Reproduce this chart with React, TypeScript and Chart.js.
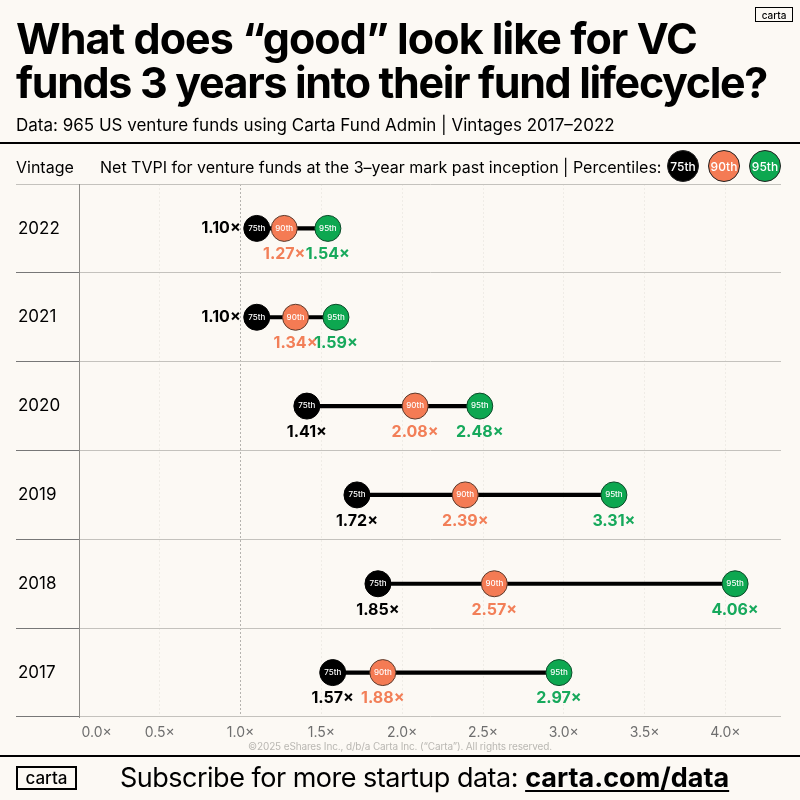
import { useEffect, useRef } from "react";
import { Chart, registerables } from "chart.js";

Chart.register(...registerables);

const vintages = ["2022", "2021", "2020", "2019", "2018", "2017"];
const p75 = [1.1, 1.1, 1.41, 1.72, 1.85, 1.57];
const p90 = [1.27, 1.34, 2.08, 2.39, 2.57, 1.88];
const p95 = [1.54, 1.59, 2.48, 3.31, 4.06, 2.97];
const leftLabelVintages = ["2022", "2021"];

const BG = "#FCF9F4";
const FONT = "Inter, sans-serif";
const ORANGE = "#F47B54";
const GREEN = "#0DA750";
const LABEL_ORANGE = "#F27F58";
const LABEL_GREEN = "#17A95C";

// value labels and the "75th" text inside the dots
const dotLabels = {
  id: "dotLabels",
  afterDatasetsDraw(chart: any) {
    const { ctx } = chart;
    chart.data.datasets.forEach((ds: any, di: number) => {
      if (!ds.labelColor) return;
      chart.getDatasetMeta(di).data.forEach((pt: any, i: number) => {
        ctx.save();
        ctx.textBaseline = "middle";
        ctx.textAlign = "center";
        ctx.fillStyle = "#FFFFFF";
        ctx.font = `500 8px ${FONT}`;
        ctx.fillText(ds.label, pt.x, pt.y);
        ctx.font = `700 16px ${FONT}`;
        ctx.fillStyle = ds.labelColor;
        const text = ds.data[i].toFixed(2) + "×";
        if (ds.label === "75th" && leftLabelVintages.includes(vintages[i])) {
          ctx.textAlign = "right";
          ctx.fillText(text, pt.x - 16, pt.y);
        } else {
          ctx.fillText(text, pt.x, pt.y + 26);
        }
        ctx.restore();
      });
    });
  },
};

function pointSet(label: string, data: number[], fill: string, labelColor: string, border: string) {
  return {
    type: "line" as const,
    label,
    data,
    labelColor,
    showLine: false,
    order: 1,
    pointRadius: 13,
    pointHoverRadius: 13,
    pointBackgroundColor: fill,
    pointBorderColor: border,
    pointBorderWidth: 1,
  };
}

function Text({ x, y, size, weight = 400, color = "#000", spacing = 0, children }: any) {
  return (
    <div
      style={{
        position: "absolute",
        left: x,
        top: y,
        fontSize: size,
        fontWeight: weight,
        color,
        letterSpacing: spacing,
        lineHeight: 1,
        whiteSpace: "nowrap",
        fontFamily: FONT,
      }}
    >
      {children}
    </div>
  );
}

function Logo({ x, y, w, h, size, border }: any) {
  return (
    <div
      style={{
        position: "absolute",
        left: x,
        top: y,
        width: w,
        height: h,
        boxSizing: "border-box",
        border: `${border}px solid #000`,
        fontSize: size,
        fontWeight: 500,
        fontFamily: FONT,
        display: "flex",
        alignItems: "center",
        justifyContent: "center",
        lineHeight: 1,
      }}
    >
      carta
    </div>
  );
}

function Badge({ x, fill, label }: any) {
  return (
    <div
      style={{
        position: "absolute",
        left: x,
        top: 150,
        width: 32,
        height: 32,
        boxSizing: "border-box",
        borderRadius: "50%",
        background: fill,
        border: "1px solid #222",
        color: "#fff",
        fontSize: 12,
        fontWeight: 500,
        fontFamily: FONT,
        display: "flex",
        alignItems: "center",
        justifyContent: "center",
      }}
    >
      {label}
    </div>
  );
}

export default function App() {
  const canvasRef = useRef<HTMLCanvasElement | null>(null);

  useEffect(() => {
    if (!canvasRef.current) return;
    const chart = new Chart(canvasRef.current, {
      type: "bar",
      data: {
        labels: vintages,
        datasets: [
          {
            label: "range",
            data: p75.map((v, i) => [v, p95[i]]),
            backgroundColor: "#000000",
            barThickness: 3.5,
            order: 2,
          } as any,
          pointSet("75th", p75, "#000000", "#000000", "#000000"),
          pointSet("90th", p90, ORANGE, LABEL_ORANGE, "#5a3a2c"),
          pointSet("95th", p95, GREEN, LABEL_GREEN, "#0b4a28"),
        ],
      },
      options: {
        indexAxis: "y",
        responsive: false,
        animation: false,
        layout: { padding: { left: 18, top: 184, right: 19, bottom: 43 } },
        plugins: { legend: { display: false }, tooltip: { enabled: false } },
        scales: {
          x: {
            type: "linear",
            min: 0,
            max: 4.344,
            afterBuildTicks: (scale: any) => {
              scale.ticks = [0, 0.5, 1, 1.5, 2, 2.5, 3, 3.5, 4].map((value) => ({ value }));
            },
            afterFit: (scale: any) => {
              scale.height = 40;
            },
            grid: {
              drawTicks: false,
              color: (c: any) => (c.tick.value === 1 ? "#B5B3AE" : "#EFECE6"),
            },
            border: { display: false, dash: [2, 2] },
            ticks: {
              padding: 7,
              maxRotation: 0,
              font: { family: FONT, size: 14 },
              color: "#6E6E6E",
              // 0.0x starts at the axis instead of centring on it
              callback: (v: any) => (v === 0 ? "         0.0×" : Number(v).toFixed(1) + "×"),
            },
          },
          y: {
            type: "category",
            afterFit: (scale: any) => {
              scale.width = 61;
            },
            grid: {
              offset: true,
              tickLength: 63,
              color: (c: any) => (c.index === vintages.length ? "#555555" : "#C4C2BD"),
              tickColor: (c: any) => (c.index === 0 ? "#C4C2BD" : "#777777"),
            },
            border: { display: true, color: "#8f8d89", width: 1 },
            ticks: {
              crossAlign: "far",
              font: { family: FONT, size: 17 },
              color: "#000000",
            },
          },
        },
      },
      plugins: [dotLabels],
    } as any);
    return () => chart.destroy();
  }, []);

  return (
    <div style={{ position: "relative", width: 800, height: 800, background: BG, overflow: "hidden" }}>
      <style>{"body{margin:0}"}</style>
      <canvas ref={canvasRef} width={800} height={800} style={{ position: "absolute", left: 0, top: 0 }} />

      <Logo x={755} y={7} w={38} h={15} size={10} border={1} />
      <Text x={16} y={17} size={43} weight={700} spacing={-0.95}>
        What does “good” look like for VC
      </Text>
      <Text x={16} y={61} size={43} weight={700} spacing={-1.35}>
        funds 3 years into their fund lifecycle?
      </Text>
      <Text x={16} y={117} size={17}>
        Data: 965 US venture funds using Carta Fund Admin | Vintages 2017–2022
      </Text>
      <div style={{ position: "absolute", left: 0, top: 142, width: 800, height: 2, background: "#000" }} />

      <Text x={16} y={159} size={16}>
        Vintage
      </Text>
      <Text x={100} y={159} size={16}>
        Net TVPI for venture funds at the 3–year mark past inception | Percentiles:
      </Text>
      <Badge x={667} fill="#000" label="75th" />
      <Badge x={708} fill={ORANGE} label="90th" />
      <Badge x={749} fill={GREEN} label="95th" />

      <Text x={248} y={741} size={10} color="#B9B7B2" spacing={-0.14}>
        ©2025 eShares Inc., d/b/a Carta Inc. (“Carta”). All rights reserved.
      </Text>
      <div style={{ position: "absolute", left: 0, top: 755, width: 800, height: 2, background: "#000" }} />
      <Logo x={16} y={766} w={61} h={24} size={17} border={2} />
      <Text x={120} y={764} size={27} spacing={-0.5}>
        Subscribe for more startup data:{" "}
        <span style={{ fontWeight: 700, letterSpacing: 0, textDecoration: "underline", textUnderlineOffset: 3 }}>
          carta.com/data
        </span>
      </Text>
    </div>
  );
}
